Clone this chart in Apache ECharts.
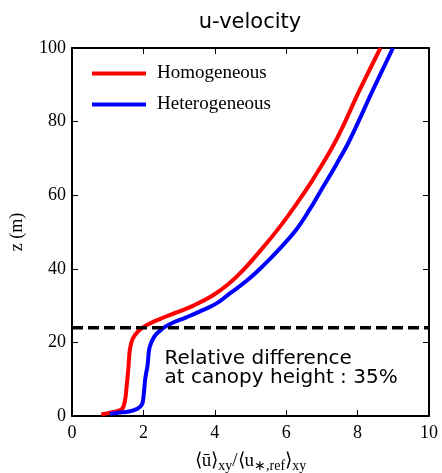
<!DOCTYPE html>
<html><head><meta charset="utf-8">
<script src="https://cdn.jsdelivr.net/npm/echarts@6/dist/echarts.min.js"></script>
<style>html,body{margin:0;padding:0;background:#fff}#c{width:442px;height:473px}</style>
</head><body><div id="c"></div>
<script>
const homogeneous = [[0.82,0.4],[1.1,1.0],[1.39,1.8],[1.48,4],[1.53,8],[1.58,13],[1.62,18],[1.7,21],[1.85,23],[2.05,24.5],[2.3,25.7],[2.6,26.9],[2.95,28.2],[3.4,30],[3.95,32.8],[4.4,36],[4.8,39.7],[5.3,45.2],[5.82,51.4],[6.3,57.8],[6.75,64.3],[7.4,75],[8.06,88.6],[8.64,100]];
const heterogeneous = [[1.06,0.6],[1.4,1.0],[1.72,1.5],[1.95,3],[2.01,6],[2.05,10],[2.12,14],[2.17,18.5],[2.3,21.5],[2.5,23.5],[2.75,25],[3.2,26.8],[3.6,28.5],[4.05,30.6],[4.42,33.3],[4.9,36.8],[5.35,40.8],[5.82,45.5],[6.28,50.6],[6.65,56],[7.01,61.9],[7.4,68.3],[7.78,75],[8.43,88.6],[8.99,100]];
const canopyHeight = 24;
const xTicks = [0,2,4,6,8,10];
const yTicks = [0,20,40,60,80,100];
const seriesNames = ['Homogeneous','Heterogeneous'];
const titleText = 'u-velocity';
const noteLines = ['Relative difference','at canopy height : 35%'];

const chart = echarts.init(document.getElementById('c'));
const serif = 'Liberation Serif';
const axisBase = {
  type:'value', splitLine:{show:false},
  axisLine:{show:true,onZero:false,lineStyle:{color:'#000',width:2}},
  axisTick:{show:true,inside:true,length:6,lineStyle:{color:'#000',width:1}},
};
chart.setOption({
  animation:false,
  title:{text:titleText,left:245,textAlign:'center',top:7,textStyle:{fontFamily:'DejaVu Sans',fontWeight:'normal',fontSize:21,color:'#000'}},
  legend:{orient:'vertical',left:87,top:59,itemWidth:54,itemHeight:4,itemGap:12,icon:'rect',
    data:seriesNames,textStyle:{fontFamily:serif,fontSize:19,color:'#000',padding:[0,0,0,6]}},
  grid:{left:72,right:13,top:48,bottom:57,containLabel:false,outerBoundsMode:'none'},
  xAxis:[
    Object.assign({},axisBase,{min:0,max:10,interval:2,position:'bottom',
      name:'{a|⟨ū⟩}{s|xy}{a|/⟨u}{s|∗,ref}{a|⟩}{s|xy}',nameLocation:'middle',nameGap:34,
      nameTextStyle:{rich:{a:{fontFamily:serif,fontSize:19,color:'#000'},s:{fontFamily:serif,fontSize:14,color:'#000',padding:[9,0,0,0]}}},
      axisLabel:{fontFamily:serif,fontSize:18,color:'#000',margin:8}}),
    Object.assign({},axisBase,{min:0,max:10,interval:2,position:'top',axisLabel:{show:false}})
  ],
  yAxis:[
    Object.assign({},axisBase,{min:0,max:100,interval:20,position:'left',
      name:'z (m)',nameLocation:'middle',nameGap:46,nameRotate:90,
      nameTextStyle:{fontFamily:serif,fontSize:18,color:'#000'},
      axisLabel:{fontFamily:serif,fontSize:18,color:'#000',margin:6}}),
    Object.assign({},axisBase,{min:0,max:100,interval:20,position:'right',axisLabel:{show:false}})
  ],
  series:[
    {name:seriesNames[0],type:'line',data:homogeneous,smooth:0.4,symbol:'none',color:'#ff0000',lineStyle:{width:4,color:'#ff0000'},z:3},
    {name:seriesNames[1],type:'line',data:heterogeneous,smooth:0.4,symbol:'none',color:'#0000ff',lineStyle:{width:4,color:'#0000ff'},z:3},
    {name:'canopy',type:'line',data:[[0,canopyHeight],[10,canopyHeight]],symbol:'none',silent:true,
      lineStyle:{width:3.5,color:'#000',type:[11,5]},z:4},
    {name:'note',type:'scatter',data:[[2.45,19.5]],symbolSize:0,itemStyle:{color:'#000'},silent:true,z:5,
      label:{show:true,formatter:noteLines.join('\n'),position:'insideTopLeft',align:'left',verticalAlign:'top',
        fontFamily:'DejaVu Sans',fontSize:20,lineHeight:19,color:'#000',opacity:1}}
  ]
});
</script></body></html>
